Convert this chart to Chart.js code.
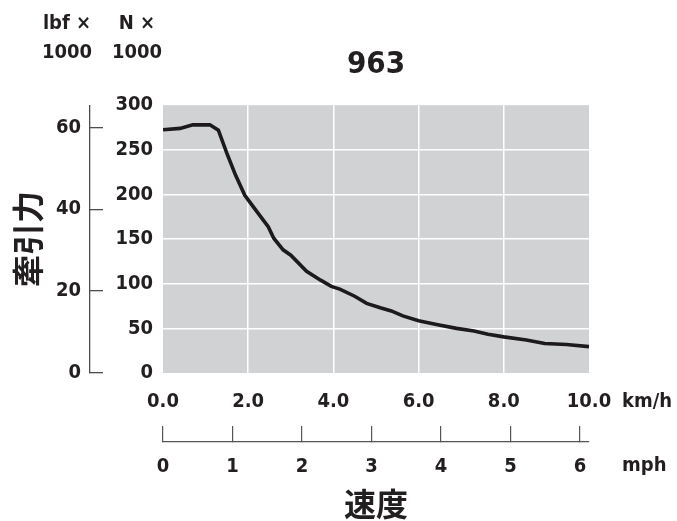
<!DOCTYPE html>
<html>
<head>
<meta charset="utf-8">
<script src="https://cdn.jsdelivr.net/npm/chart.js@4.4.1/dist/chart.umd.min.js"></script>
<style>
  html, body { margin: 0; padding: 0; background: #ffffff; }
  #wrap { width: 677px; height: 521px; }
</style>
</head>
<body>
<div id="wrap"><canvas id="c" width="677" height="521"></canvas></div>
<script>
// ---- data ----
const speedKmh = [0.0, 0.4, 0.7, 1.1, 1.3, 1.5, 1.7, 1.92, 2.2, 2.47, 2.6, 2.82, 3.0, 3.37, 3.7, 3.95, 4.15, 4.5, 4.78, 5.1, 5.36, 5.63, 6.0, 6.45, 6.89, 7.3, 7.63, 8.0, 8.53, 8.96, 9.47, 10.0];
const tractionKN = [272.5, 274, 278, 278, 272, 246, 222, 199, 181, 164, 151, 138, 132, 114, 104, 97, 94, 86, 78, 73, 69.5, 64, 58.5, 54, 50, 47, 43.5, 40.5, 37, 33, 32, 29.5];
const kmhTicks = [0, 2, 4, 6, 8, 10];
const mphTicks = [0, 1, 2, 3, 4, 5, 6];
const nTicks = [0, 50, 100, 150, 200, 250, 300];
const lbfTicks = [0, 20, 40, 60];
const titleText = '963';
const yTitle = '牽引力';
const xTitle = '速度';

const NARROW = "'Liberation Sans Narrow', 'DejaVu Sans Condensed', 'Arial Narrow', sans-serif";
const CJK = "'Noto Sans CJK JP', 'Noto Sans CJK SC', sans-serif";
const INK = '#231f20';

const bgPlugin = {
  id: 'bg',
  beforeDraw(chart) {
    const a = chart.chartArea, ctx = chart.ctx;
    ctx.save();
    ctx.fillStyle = '#d1d2d4';
    ctx.fillRect(a.left, a.top, a.right - a.left, a.bottom - a.top);
    ctx.restore();
  }
};

const unitPlugin = {
  id: 'units',
  afterDraw(chart) {
    const ctx = chart.ctx, s = chart.scales;
    ctx.save();
    ctx.fillStyle = INK;
    ctx.font = "bold 20px " + NARROW;
    ctx.textBaseline = 'middle';
    ctx.textAlign = 'left';
    ctx.fillText('km/h', chart.chartArea.right + 33, s.x.top + 29);
    ctx.fillText('mph', chart.chartArea.right + 33, s.mph.top + 24);
    ctx.textAlign = 'center';
    const lx = s.lbf.right - 23, nx = s.y.right - 26;
    ctx.fillText('lbf \u00d7', lx, 24);
    ctx.fillText('1000', lx, 53);
    ctx.fillText('N \u00d7', nx, 24);
    ctx.fillText('1000', nx, 53);
    ctx.restore();
  }
};

const tickFont = { family: NARROW, size: 20, weight: 'bold' };
const edgeless = (ctx) => (ctx.index === 0 || ctx.index === ctx.scale.ticks.length - 1) ? 'rgba(0,0,0,0)' : '#ffffff';

new Chart(document.getElementById('c'), {
  type: 'line',
  data: {
    datasets: [{
      data: speedKmh.map((v, i) => ({ x: v, y: tractionKN[i] })),
      borderColor: '#1c1a1b',
      borderWidth: 3.6,
      pointRadius: 0,
      tension: 0,
      fill: false,
      xAxisID: 'x',
      yAxisID: 'y'
    }]
  },
  options: {
    responsive: false,
    animation: false,
    devicePixelRatio: 1,
    layout: { padding: { left: 0, right: 88, top: 0, bottom: 0 } },
    plugins: {
      legend: { display: false },
      tooltip: { enabled: false },
      title: {
        display: true,
        text: titleText,
        fullSize: false,
        color: INK,
        font: { family: NARROW, size: 31, weight: 'bold' },
        padding: { top: 46, bottom: 22 }
      }
    },
    scales: {
      x: {
        type: 'linear',
        position: 'bottom',
        weight: 0,
        min: 0, max: 10,
        afterBuildTicks: (s) => { s.ticks = kmhTicks.map(v => ({ value: v })); },
        afterFit: (s) => { s.height = 69; },
        ticks: { font: tickFont, color: INK, padding: 17, maxRotation: 0, callback: (v) => Number(v).toFixed(1) },
        grid: { color: edgeless, lineWidth: 1.5, drawTicks: false },
        border: { display: false }
      },
      mph: {
        type: 'linear',
        axis: 'x',
        position: 'bottom',
        weight: 1,
        min: 0, max: 6.13,
        afterBuildTicks: (s) => { s.ticks = mphTicks.map(v => ({ value: v })); },
        afterFit: (s) => { s.height = 79; },
        ticks: { font: tickFont, color: INK, padding: 29, maxRotation: 0 },
        grid: { drawOnChartArea: false, drawTicks: true, tickLength: -16, color: '#555555', lineWidth: 1.2 },
        border: { display: true, color: '#555555', width: 1.2 },
        title: { display: true, text: xTitle, color: INK, font: { family: CJK, size: 32, weight: 'bold', lineHeight: 1.1 }, padding: { top: 0, bottom: 0 } }
      },
      y: {
        type: 'linear',
        position: 'left',
        weight: 0,
        min: 0, max: 300,
        afterBuildTicks: (s) => { s.ticks = nTicks.map(v => ({ value: v })); },
        afterFit: (s) => { s.width = 73; },
        ticks: { font: tickFont, color: INK, padding: 10 },
        grid: { color: edgeless, lineWidth: 1.5, drawTicks: false },
        border: { display: false }
      },
      lbf: {
        type: 'linear',
        axis: 'y',
        position: 'left',
        weight: 1,
        min: 0, max: 65.4,
        afterBuildTicks: (s) => { s.ticks = lbfTicks.map(v => ({ value: v })); },
        afterFit: (s) => { s.width = 90; },
        ticks: { font: tickFont, color: INK, padding: 22 },
        grid: { drawOnChartArea: false, drawTicks: true, tickLength: -13, color: '#4d4d4d', lineWidth: 1.3 },
        border: { display: true, color: '#4d4d4d', width: 1.3 },
        title: { display: true, text: yTitle, color: INK, font: { family: CJK, size: 32, weight: 'bold', lineHeight: 1.2 }, padding: { top: 9, bottom: 0 } }
      }
    }
  },
  plugins: [bgPlugin, unitPlugin]
});
</script>
</body>
</html>
